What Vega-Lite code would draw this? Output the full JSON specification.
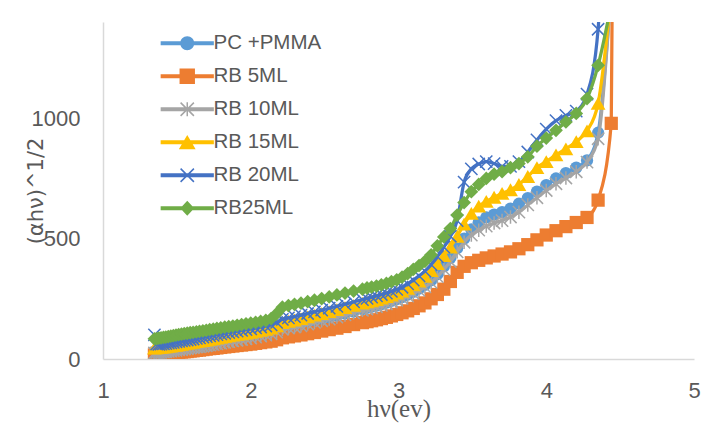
{
  "$schema": "https://vega.github.io/schema/vega-lite/v6.json",
  "width": 591,
  "height": 337,
  "autosize": "none",
  "padding": {"left": 103, "top": 22, "right": 15, "bottom": 64},
  "background": "white",
  "config": {"view": {"stroke": null}},
  "data": {"values": [
    {"x":1.348,"PC +PMMA":30,"RB 5ML":17,"RB 10ML":25,"RB 15ML":45,"RB 20ML":100,"RB25ML":84},
    {"x":1.363,"PC +PMMA":31,"RB 5ML":18,"RB 10ML":26,"RB 15ML":46,"RB 20ML":62,"RB25ML":85},
    {"x":1.378,"PC +PMMA":32,"RB 5ML":19,"RB 10ML":27,"RB 15ML":48,"RB 20ML":61,"RB25ML":87},
    {"x":1.393,"PC +PMMA":33,"RB 5ML":20,"RB 10ML":28,"RB 15ML":49,"RB 20ML":62,"RB25ML":88},
    {"x":1.409,"PC +PMMA":34,"RB 5ML":21,"RB 10ML":29,"RB 15ML":50,"RB 20ML":63,"RB25ML":90},
    {"x":1.425,"PC +PMMA":36,"RB 5ML":22,"RB 10ML":30,"RB 15ML":51,"RB 20ML":64,"RB25ML":91},
    {"x":1.442,"PC +PMMA":37,"RB 5ML":23,"RB 10ML":32,"RB 15ML":53,"RB 20ML":66,"RB25ML":93},
    {"x":1.459,"PC +PMMA":38,"RB 5ML":24,"RB 10ML":33,"RB 15ML":54,"RB 20ML":67,"RB25ML":95},
    {"x":1.476,"PC +PMMA":40,"RB 5ML":25,"RB 10ML":35,"RB 15ML":56,"RB 20ML":69,"RB25ML":97},
    {"x":1.494,"PC +PMMA":41,"RB 5ML":26,"RB 10ML":36,"RB 15ML":57,"RB 20ML":71,"RB25ML":99},
    {"x":1.512,"PC +PMMA":43,"RB 5ML":28,"RB 10ML":38,"RB 15ML":59,"RB 20ML":73,"RB25ML":101},
    {"x":1.531,"PC +PMMA":44,"RB 5ML":29,"RB 10ML":39,"RB 15ML":61,"RB 20ML":75,"RB25ML":103},
    {"x":1.550,"PC +PMMA":46,"RB 5ML":30,"RB 10ML":41,"RB 15ML":63,"RB 20ML":77,"RB25ML":105},
    {"x":1.570,"PC +PMMA":48,"RB 5ML":31,"RB 10ML":43,"RB 15ML":65,"RB 20ML":79,"RB25ML":107},
    {"x":1.590,"PC +PMMA":50,"RB 5ML":33,"RB 10ML":45,"RB 15ML":67,"RB 20ML":81,"RB25ML":109},
    {"x":1.610,"PC +PMMA":52,"RB 5ML":34,"RB 10ML":47,"RB 15ML":69,"RB 20ML":83,"RB25ML":111},
    {"x":1.632,"PC +PMMA":54,"RB 5ML":36,"RB 10ML":49,"RB 15ML":72,"RB 20ML":86,"RB25ML":113},
    {"x":1.653,"PC +PMMA":56,"RB 5ML":37,"RB 10ML":51,"RB 15ML":74,"RB 20ML":88,"RB25ML":115},
    {"x":1.676,"PC +PMMA":58,"RB 5ML":39,"RB 10ML":53,"RB 15ML":77,"RB 20ML":91,"RB25ML":117},
    {"x":1.699,"PC +PMMA":60,"RB 5ML":41,"RB 10ML":55,"RB 15ML":79,"RB 20ML":93,"RB25ML":119},
    {"x":1.722,"PC +PMMA":63,"RB 5ML":43,"RB 10ML":58,"RB 15ML":82,"RB 20ML":96,"RB25ML":122},
    {"x":1.746,"PC +PMMA":65,"RB 5ML":44,"RB 10ML":60,"RB 15ML":84,"RB 20ML":98,"RB25ML":124},
    {"x":1.771,"PC +PMMA":68,"RB 5ML":46,"RB 10ML":63,"RB 15ML":87,"RB 20ML":101,"RB25ML":127},
    {"x":1.797,"PC +PMMA":71,"RB 5ML":48,"RB 10ML":66,"RB 15ML":90,"RB 20ML":104,"RB25ML":129},
    {"x":1.824,"PC +PMMA":74,"RB 5ML":50,"RB 10ML":69,"RB 15ML":93,"RB 20ML":107,"RB25ML":132},
    {"x":1.851,"PC +PMMA":77,"RB 5ML":52,"RB 10ML":72,"RB 15ML":96,"RB 20ML":110,"RB25ML":134},
    {"x":1.879,"PC +PMMA":80,"RB 5ML":54,"RB 10ML":75,"RB 15ML":99,"RB 20ML":113,"RB25ML":137},
    {"x":1.908,"PC +PMMA":83,"RB 5ML":56,"RB 10ML":78,"RB 15ML":102,"RB 20ML":116,"RB25ML":140},
    {"x":1.938,"PC +PMMA":86,"RB 5ML":58,"RB 10ML":81,"RB 15ML":105,"RB 20ML":119,"RB25ML":143},
    {"x":1.968,"PC +PMMA":89,"RB 5ML":60,"RB 10ML":84,"RB 15ML":108,"RB 20ML":122,"RB25ML":146},
    {"x":2.000,"PC +PMMA":92,"RB 5ML":62,"RB 10ML":87,"RB 15ML":111,"RB 20ML":125,"RB25ML":149},
    {"x":2.033,"PC +PMMA":96,"RB 5ML":65,"RB 10ML":91,"RB 15ML":115,"RB 20ML":129,"RB25ML":152},
    {"x":2.067,"PC +PMMA":100,"RB 5ML":68,"RB 10ML":95,"RB 15ML":119,"RB 20ML":133,"RB25ML":156},
    {"x":2.102,"PC +PMMA":104,"RB 5ML":71,"RB 10ML":99,"RB 15ML":123,"RB 20ML":137,"RB25ML":160},
    {"x":2.138,"PC +PMMA":109,"RB 5ML":74,"RB 10ML":104,"RB 15ML":128,"RB 20ML":142,"RB25ML":168},
    {"x":2.175,"PC +PMMA":117,"RB 5ML":80,"RB 10ML":112,"RB 15ML":138,"RB 20ML":152,"RB25ML":188},
    {"x":2.214,"PC +PMMA":128,"RB 5ML":88,"RB 10ML":123,"RB 15ML":151,"RB 20ML":165,"RB25ML":215},
    {"x":2.255,"PC +PMMA":133,"RB 5ML":92,"RB 10ML":128,"RB 15ML":157,"RB 20ML":171,"RB25ML":222},
    {"x":2.296,"PC +PMMA":138,"RB 5ML":96,"RB 10ML":133,"RB 15ML":162,"RB 20ML":176,"RB25ML":227},
    {"x":2.340,"PC +PMMA":143,"RB 5ML":100,"RB 10ML":138,"RB 15ML":168,"RB 20ML":182,"RB25ML":232},
    {"x":2.385,"PC +PMMA":150,"RB 5ML":105,"RB 10ML":145,"RB 15ML":175,"RB 20ML":189,"RB25ML":238},
    {"x":2.431,"PC +PMMA":157,"RB 5ML":110,"RB 10ML":152,"RB 15ML":182,"RB 20ML":196,"RB25ML":244},
    {"x":2.480,"PC +PMMA":164,"RB 5ML":116,"RB 10ML":159,"RB 15ML":189,"RB 20ML":203,"RB25ML":251},
    {"x":2.531,"PC +PMMA":171,"RB 5ML":122,"RB 10ML":166,"RB 15ML":197,"RB 20ML":211,"RB25ML":258},
    {"x":2.583,"PC +PMMA":179,"RB 5ML":128,"RB 10ML":174,"RB 15ML":205,"RB 20ML":219,"RB25ML":266},
    {"x":2.638,"PC +PMMA":188,"RB 5ML":135,"RB 10ML":183,"RB 15ML":214,"RB 20ML":228,"RB25ML":274},
    {"x":2.696,"PC +PMMA":197,"RB 5ML":143,"RB 10ML":192,"RB 15ML":223,"RB 20ML":237,"RB25ML":282},
    {"x":2.756,"PC +PMMA":207,"RB 5ML":151,"RB 10ML":202,"RB 15ML":232,"RB 20ML":247,"RB25ML":290},
    {"x":2.787,"PC +PMMA":212,"RB 5ML":155,"RB 10ML":207,"RB 15ML":237,"RB 20ML":252,"RB25ML":295},
    {"x":2.818,"PC +PMMA":217,"RB 5ML":159,"RB 10ML":212,"RB 15ML":242,"RB 20ML":257,"RB25ML":299},
    {"x":2.851,"PC +PMMA":222,"RB 5ML":163,"RB 10ML":217,"RB 15ML":247,"RB 20ML":262,"RB25ML":303},
    {"x":2.884,"PC +PMMA":228,"RB 5ML":168,"RB 10ML":223,"RB 15ML":253,"RB 20ML":268,"RB25ML":308},
    {"x":2.918,"PC +PMMA":234,"RB 5ML":173,"RB 10ML":229,"RB 15ML":259,"RB 20ML":274,"RB25ML":314},
    {"x":2.952,"PC +PMMA":241,"RB 5ML":179,"RB 10ML":236,"RB 15ML":266,"RB 20ML":281,"RB25ML":321},
    {"x":2.988,"PC +PMMA":249,"RB 5ML":185,"RB 10ML":244,"RB 15ML":274,"RB 20ML":289,"RB25ML":329},
    {"x":3.024,"PC +PMMA":257,"RB 5ML":192,"RB 10ML":252,"RB 15ML":282,"RB 20ML":298,"RB25ML":340},
    {"x":3.062,"PC +PMMA":267,"RB 5ML":200,"RB 10ML":261,"RB 15ML":294,"RB 20ML":312,"RB25ML":355},
    {"x":3.100,"PC +PMMA":279,"RB 5ML":210,"RB 10ML":272,"RB 15ML":308,"RB 20ML":328,"RB25ML":372},
    {"x":3.139,"PC +PMMA":292,"RB 5ML":221,"RB 10ML":285,"RB 15ML":324,"RB 20ML":345,"RB25ML":388},
    {"x":3.179,"PC +PMMA":308,"RB 5ML":233,"RB 10ML":300,"RB 15ML":343,"RB 20ML":365,"RB25ML":406},
    {"x":3.221,"PC +PMMA":327,"RB 5ML":250,"RB 10ML":318,"RB 15ML":367,"RB 20ML":392,"RB25ML":433},
    {"x":3.263,"PC +PMMA":352,"RB 5ML":268,"RB 10ML":342,"RB 15ML":396,"RB 20ML":425,"RB25ML":470},
    {"x":3.307,"PC +PMMA":385,"RB 5ML":290,"RB 10ML":372,"RB 15ML":430,"RB 20ML":465,"RB25ML":507},
    {"x":3.351,"PC +PMMA":420,"RB 5ML":322,"RB 10ML":405,"RB 15ML":465,"RB 20ML":510,"RB25ML":542},
    {"x":3.397,"PC +PMMA":460,"RB 5ML":360,"RB 10ML":445,"RB 15ML":510,"RB 20ML":575,"RB25ML":598},
    {"x":3.444,"PC +PMMA":500,"RB 5ML":385,"RB 10ML":485,"RB 15ML":560,"RB 20ML":735,"RB25ML":650},
    {"x":3.493,"PC +PMMA":538,"RB 5ML":400,"RB 10ML":515,"RB 15ML":605,"RB 20ML":790,"RB25ML":695},
    {"x":3.543,"PC +PMMA":568,"RB 5ML":410,"RB 10ML":535,"RB 15ML":635,"RB 20ML":810,"RB25ML":725},
    {"x":3.594,"PC +PMMA":588,"RB 5ML":420,"RB 10ML":552,"RB 15ML":655,"RB 20ML":820,"RB25ML":750},
    {"x":3.647,"PC +PMMA":600,"RB 5ML":428,"RB 10ML":565,"RB 15ML":672,"RB 20ML":812,"RB25ML":768},
    {"x":3.701,"PC +PMMA":610,"RB 5ML":436,"RB 10ML":575,"RB 15ML":688,"RB 20ML":800,"RB25ML":778},
    {"x":3.758,"PC +PMMA":625,"RB 5ML":445,"RB 10ML":590,"RB 15ML":703,"RB 20ML":800,"RB25ML":795},
    {"x":3.815,"PC +PMMA":645,"RB 5ML":458,"RB 10ML":610,"RB 15ML":725,"RB 20ML":820,"RB25ML":812},
    {"x":3.875,"PC +PMMA":668,"RB 5ML":475,"RB 10ML":640,"RB 15ML":758,"RB 20ML":860,"RB25ML":840},
    {"x":3.937,"PC +PMMA":695,"RB 5ML":495,"RB 10ML":670,"RB 15ML":795,"RB 20ML":910,"RB25ML":884},
    {"x":4.000,"PC +PMMA":722,"RB 5ML":515,"RB 10ML":700,"RB 15ML":820,"RB 20ML":955,"RB25ML":918},
    {"x":4.066,"PC +PMMA":750,"RB 5ML":533,"RB 10ML":728,"RB 15ML":848,"RB 20ML":990,"RB25ML":950},
    {"x":4.133,"PC +PMMA":772,"RB 5ML":550,"RB 10ML":752,"RB 15ML":873,"RB 20ML":1012,"RB25ML":985},
    {"x":4.203,"PC +PMMA":795,"RB 5ML":567,"RB 10ML":778,"RB 15ML":903,"RB 20ML":1030,"RB25ML":1020},
    {"x":4.276,"PC +PMMA":825,"RB 5ML":588,"RB 10ML":818,"RB 15ML":948,"RB 20ML":1100,"RB25ML":1082},
    {"x":4.351,"PC +PMMA":940,"RB 5ML":660,"RB 10ML":915,"RB 15ML":1062,"RB 20ML":1370,"RB25ML":1220},
    {"x":4.429,"PC +PMMA":1450,"RB 10ML":1450,"RB 15ML":1450,"RB 20ML":3000,"RB25ML":1440},
    {"x":4.440,"RB 5ML":979},
    {"x":4.465,"RB 5ML":3000}
  ]},
  "transform": [
    {"fold": ["PC +PMMA","RB 5ML","RB 10ML","RB 15ML","RB 20ML","RB25ML"], "as": ["s","v"]},
    {"filter": "isValid(datum.v)"}
  ],
  "encoding": {
    "x": {"field": "x", "type": "quantitative",
      "scale": {"domain": [1,5], "nice": false, "zero": false},
      "axis": {"values": [1,2,3,4,5], "grid": false, "ticks": false, "labelFlush": false, "domainColor": "#d9d9d9", "domainWidth": 1.5,
        "labelFont": "Liberation Sans", "labelFontSize": 22, "labelColor": "#595959", "labelPadding": 21,
        "title": "hν(ev)", "titleFont": "Liberation Serif", "titleFontSize": 25, "titleFontWeight": "normal", "titleColor": "#595959",
        "titleY": 49, "titleBaseline": "middle"}},
    "y": {"field": "v", "type": "quantitative",
      "scale": {"domain": [0,1400], "nice": false},
      "axis": {"values": [0,500,1000], "format": "d", "grid": false, "ticks": false, "labelFlush": false, "domainColor": "#d9d9d9", "domainWidth": 1.5,
        "labelFont": "Liberation Sans", "labelFontSize": 22, "labelColor": "#595959", "labelPadding": 23,
        "title": "(αhν)^1/2", "titleFont": "DejaVu Sans", "titleFontSize": 21, "titleFontWeight": "normal", "titleColor": "#595959",
        "titleX": -67, "titleY": 168.5, "titleAngle": 270, "titleAlign": "center", "titleBaseline": "middle"}},
    "color": {"field": "s", "type": "nominal",
      "scale": {"domain": ["PC +PMMA","RB 5ML","RB 10ML","RB 15ML","RB 20ML","RB25ML"],
                "range": ["#5B9BD5","#ED7D31","#A5A5A5","#FFC000","#4472C4","#70AD47"]},
      "legend": {"orient": "none", "legendX": 74, "legendY": 11, "title": null, "padding": 0,
        "labelFont": "Liberation Sans", "labelFontSize": 20.5, "labelColor": "#595959", "labelOffset": 16,
        "symbolSize": 144, "rowPadding": 12,
        "encode": {"symbols": {"update": {
          "shape": {"signal": "datum.value === 'PC +PMMA' ? 'M-3.8,-0.29L3.8,-0.29L3.8,0.29L-3.8,0.29ZM-1,0A1,1,0,1,1,1,0A1,1,0,1,1,-1,0Z' : datum.value === 'RB 5ML' ? 'M-3.8,-0.29L3.8,-0.29L3.8,0.29L-3.8,0.29ZM-1.1,-1.1L1.1,-1.1L1.1,1.1L-1.1,1.1Z' : datum.value === 'RB 10ML' ? 'M-3.8,-0.29L3.8,-0.29L3.8,0.29L-3.8,0.29ZM-0.874,-1.026L1.026,0.874L0.874,1.026L-1.026,-0.874ZM1.026,-0.874L-0.874,1.026L-1.026,0.874L0.874,-1.026ZM-0.107,-1L0.107,-1L0.107,1L-0.107,1Z' : datum.value === 'RB 15ML' ? 'M-3.8,-0.29L3.8,-0.29L3.8,0.29L-3.8,0.29ZM0,-1.05L1.2,1L-1.2,1Z' : datum.value === 'RB 20ML' ? 'M-3.8,-0.29L3.8,-0.29L3.8,0.29L-3.8,0.29ZM-0.874,-1.026L1.026,0.874L0.874,1.026L-1.026,-0.874ZM1.026,-0.874L-0.874,1.026L-1.026,0.874L0.874,-1.026Z' : 'M-3.8,-0.29L3.8,-0.29L3.8,0.29L-3.8,0.29ZM0,-1.07L1,0L0,1.07L-1,0Z'"},
          "fill": {"scale": "color", "field": "value"},
          "stroke": {"value": "transparent"},
          "strokeWidth": {"value": 0},
          "opacity": {"value": 1},
          "size": {"value": 196}
        }}}}
    }
  },
  "layer": [
    {"transform": [{"filter": "datum.s === 'PC +PMMA'"}], "mark": {"type": "line", "interpolate": "monotone", "strokeWidth": 3.25, "clip": true}},
    {"transform": [{"filter": "datum.s === 'PC +PMMA'"}], "mark": {"type": "point", "shape": "circle", "filled": true, "size": 150, "opacity": 1, "clip": true}},
    {"transform": [{"filter": "datum.s === 'RB 5ML'"}], "mark": {"type": "line", "interpolate": "monotone", "strokeWidth": 3.25, "clip": true}},
    {"transform": [{"filter": "datum.s === 'RB 5ML'"}], "mark": {"type": "point", "shape": "square", "filled": true, "size": 175, "opacity": 1, "clip": true}},
    {"transform": [{"filter": "datum.s === 'RB 10ML'"}], "mark": {"type": "line", "interpolate": "monotone", "strokeWidth": 3.25, "clip": true}},
    {"transform": [{"filter": "datum.s === 'RB 10ML'"}], "mark": {"type": "point", "shape": "M-1,-1L1,1M-1,1L1,-1M0,-1.1L0,1.1", "filled": false, "strokeWidth": 1.5, "size": 150, "opacity": 1, "clip": true}},
    {"transform": [{"filter": "datum.s === 'RB 15ML'"}], "mark": {"type": "line", "interpolate": "monotone", "strokeWidth": 3.25, "clip": true}},
    {"transform": [{"filter": "datum.s === 'RB 15ML'"}], "mark": {"type": "point", "shape": "triangle-up", "filled": true, "size": 220, "opacity": 1, "clip": true}},
    {"transform": [{"filter": "datum.s === 'RB 20ML'"}], "mark": {"type": "line", "interpolate": "monotone", "strokeWidth": 3.25, "clip": true}},
    {"transform": [{"filter": "datum.s === 'RB 20ML'"}], "mark": {"type": "point", "shape": "M-1,-1L1,1M-1,1L1,-1", "filled": false, "strokeWidth": 1.5, "size": 150, "opacity": 1, "clip": true}},
    {"transform": [{"filter": "datum.s === 'RB25ML'"}], "mark": {"type": "line", "interpolate": "monotone", "strokeWidth": 3.25, "clip": true}},
    {"transform": [{"filter": "datum.s === 'RB25ML'"}], "mark": {"type": "point", "shape": "diamond", "filled": true, "size": 190, "opacity": 1, "clip": true}}
  ]
}
